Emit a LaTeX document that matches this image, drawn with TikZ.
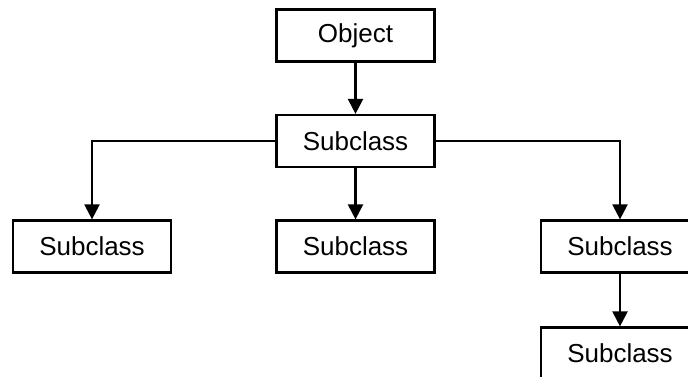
\documentclass[tikz,border=0pt]{standalone}
\usepackage{fontspec}
\setmainfont{Liberation Sans}
\usetikzlibrary{arrows.meta}
\begin{document}
\begin{tikzpicture}[x=1pt,y=-1pt,
  box/.style={draw, line width=2.2pt, minimum width=158pt, minimum height=52pt, inner sep=0pt, font=\fontsize{26}{31}\selectfont},
  conn/.style={line width=2.2pt, -{Triangle[width=15pt,length=15pt]}}]
\useasboundingbox (0,0) rectangle (688,377);
\clip (0,0) rectangle (688,377);
\fill[white] (0,0) rectangle (688,377);
\node[box] (obj) at (355.5,35.5) {Object};
\node[box] (sub) at (355.5,141) {Subclass};
\node[box] (left) at (92,246.5) {Subclass};
\node[box] (mid) at (355.5,246.5) {Subclass};
\node[box] (right) at (620,246.5) {Subclass};
\node[box] (bot) at (620,353.5) {Subclass};
\draw[conn] (obj) -- (sub);
\draw[conn] (sub.west) -| (left.north);
\draw[conn] (sub) -- (mid);
\draw[conn] (sub.east) -| (right.north);
\draw[conn] (right) -- (bot);
\end{tikzpicture}
\end{document}
